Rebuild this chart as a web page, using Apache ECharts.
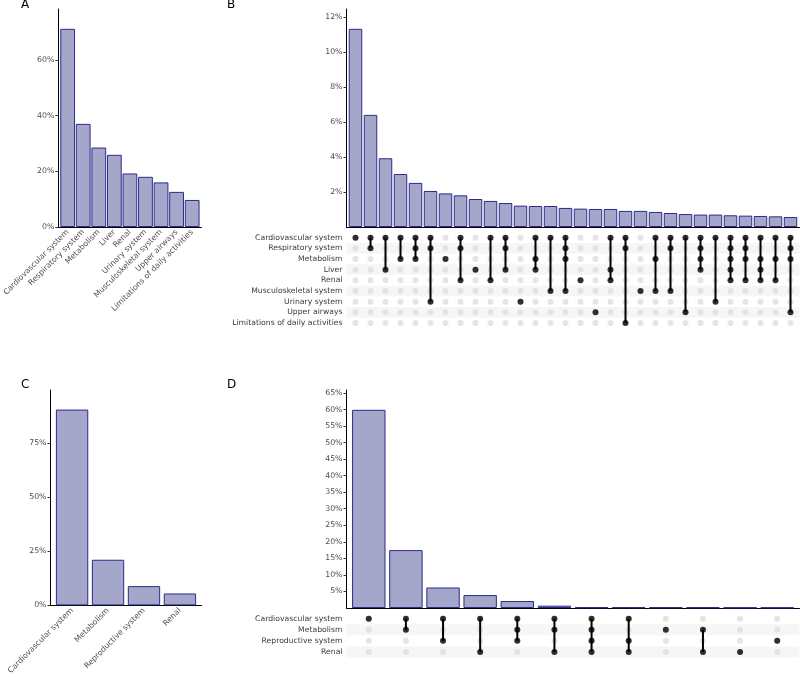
<!doctype html>
<html lang="en">
<head>
<meta charset="UTF-8">
<title>Multimorbidity</title>
<script src="https://cdn.jsdelivr.net/npm/echarts@6/dist/echarts.min.js"></script>
<style>html,body{margin:0;background:#fff;}</style>
</head>
<body>
<div id="main" style="width:800px;height:677px;"></div>
<script>
// A: share per organ system (%)
var catsA = ['Cardiovascular system', 'Respiratory system', 'Metabolism', 'Liver', 'Renal',
    'Urinary system', 'Musculoskeletal system', 'Upper airways', 'Limitations of daily activities'];
var valsA = [71.1, 37.0, 28.5, 25.9, 19.2, 18.0, 16.0, 12.6, 9.7];
var ticksA = [0, 20, 40, 60];

// B: combinations (row indexes into rowsB)
var rowsB = ['Cardiovascular system', 'Respiratory system', 'Metabolism', 'Liver', 'Renal',
    'Musculoskeletal system', 'Urinary system', 'Upper airways', 'Limitations of daily activities'];
var valsB = [11.33, 6.41, 3.93, 3.03, 2.52, 2.06, 1.92, 1.81, 1.60, 1.49,
    1.37, 1.22, 1.20, 1.20, 1.09, 1.05, 1.03, 1.03, 0.92, 0.92,
    0.86, 0.80, 0.74, 0.71, 0.71, 0.67, 0.65, 0.63, 0.61, 0.57];
var combosB = [[0], [0, 1], [0, 3], [0, 2], [0, 1, 2], [0, 1, 6], [2], [0, 1, 4], [3], [0, 4],
    [0, 1, 3], [6], [0, 2, 3], [0, 5], [0, 1, 2, 5], [4], [7], [0, 3, 4], [0, 1, 8], [5],
    [0, 2, 5], [0, 1, 5], [0, 7], [0, 1, 2, 3], [0, 6], [0, 1, 2, 3, 4], [0, 1, 2, 4], [0, 2, 3, 4], [0, 2, 4], [0, 1, 2, 7]];
var ticksB = [2, 4, 6, 8, 10, 12];

// C
var catsC = ['Cardiovascular system', 'Metabolism', 'Reproductive system', 'Renal'];
var valsC = [90.6, 21.1, 8.9, 5.5];
var ticksC = [0, 25, 50, 75];

// D
var rowsD = ['Cardiovascular system', 'Metabolism', 'Reproductive system', 'Renal'];
var valsD = [59.9, 17.5, 6.2, 3.9, 2.1, 0.7, 0.2, 0.2, 0.2, 0.2, 0.15, 0.15];
var combosD = [[0], [0, 1], [0, 2], [0, 3], [0, 1, 2], [0, 1, 3], [0, 1, 2, 3], [0, 2, 3], [1], [1, 3], [3], [2]];
var ticksD = [5, 10, 15, 20, 25, 30, 35, 40, 45, 50, 55, 60, 65];

var FONT = 'DejaVu Sans';
var barFill = '#a4a6ca', barLine = '#2e2a8a';

var myChart = echarts.init(document.getElementById('main'));

var grids = [], xAxes = [], yAxes = [], series = [];

function addBars(box, vals, ticks, names) {
    var k = grids.length;
    var n = vals.length;
    grids.push({ left: box[0], top: box[1], width: box[2], height: box[3] });
    xAxes.push({
        gridIndex: k, type: 'value', min: -0.6, max: n - 0.4,
        splitLine: { show: false },
        axisLine: { show: true, onZero: false, lineStyle: { color: '#000', width: 1 } },
        axisTick: { show: false },
        axisLabel: names ? {
            show: true, rotate: 45, margin: 4, fontFamily: FONT, fontSize: 7.8, color: '#4d4d4d',
            customValues: names.map(function (d, i) { return i; }),
            formatter: function (v) { return names[Math.round(v)]; }
        } : { show: false }
    });
    yAxes.push({
        gridIndex: k, type: 'value', min: 0, max: Math.max.apply(null, vals) * 1.1,
        splitLine: { show: false },
        axisLine: { show: true, onZero: false, lineStyle: { color: '#000', width: 1 } },
        axisTick: { show: true, length: 3, customValues: ticks, lineStyle: { color: '#333' } },
        axisLabel: {
            margin: 4, fontFamily: FONT, fontSize: 7.8, color: '#4d4d4d', customValues: ticks,
            formatter: function (v) { return v + '%'; }
        }
    });
    series.push({
        type: 'bar', xAxisIndex: k, yAxisIndex: k,
        barWidth: 0.9 * box[2] / (n + 0.2),
        itemStyle: { color: barFill, borderColor: barLine, borderWidth: 1 },
        data: vals.map(function (v, i) { return [i, v]; })
    });
}

function addMatrix(box, rows, combos) {
    var k = grids.length;
    var n = combos.length;
    grids.push({ left: box[0], top: box[1], width: box[2], height: box[3] });
    xAxes.push({ gridIndex: k, type: 'value', min: -0.6, max: n - 0.4, show: false });
    yAxes.push({
        gridIndex: k, type: 'category', data: rows, inverse: true,
        axisLine: { show: false }, axisTick: { show: false },
        axisLabel: { margin: 4, fontFamily: FONT, fontSize: 7.7, color: '#3a3a3a' },
        splitArea: { show: true, interval: 0, areaStyle: { color: ['rgba(255,255,255,0)', '#f6f6f6'] } }
    });
    var grey = [], black = [], links = [];
    combos.forEach(function (c, i) {
        rows.forEach(function (r, j) { grey.push([i, j]); });
        c.forEach(function (j) { black.push([i, j]); });
        if (c.length > 1) links.push([i, Math.min.apply(null, c), Math.max.apply(null, c)]);
    });
    series.push({
        type: 'scatter', xAxisIndex: k, yAxisIndex: k, symbolSize: 6, z: 2,
        itemStyle: { color: '#dfdfdf' }, data: grey, silent: true
    });
    series.push({
        type: 'custom', xAxisIndex: k, yAxisIndex: k, z: 3, silent: true,
        encode: { x: 0, y: [1, 2] },
        renderItem: function (params, api) {
            var p1 = api.coord([api.value(0), api.value(1)]);
            var p2 = api.coord([api.value(0), api.value(2)]);
            return {
                type: 'line', shape: { x1: p1[0], y1: p1[1], x2: p2[0], y2: p2[1] },
                style: { stroke: '#000', lineWidth: 2 }
            };
        },
        data: links
    });
    series.push({
        type: 'scatter', xAxisIndex: k, yAxisIndex: k, symbolSize: 6, z: 4,
        itemStyle: { color: '#000' }, data: black, silent: true
    });
}

addBars([50.5, 9, 151, 218], valsA, ticksA, catsA);
addBars([346.5, 9, 453, 218], valsB, ticksB, null);
addMatrix([346.5, 232.3, 453, 96], rowsB, combosB);
addBars([50.5, 390, 151, 217.7], valsC, ticksC, catsC);
addBars([346.5, 390, 453, 218], valsD, ticksD, null);
addMatrix([346.5, 613.1, 453, 44.4], rowsD, combosD);

function letter(t, x, y) {
    return { type: 'text', left: x, top: y, style: { text: t, font: '12px DejaVu Sans', fill: '#000' } };
}

option = {
    animation: false,
    backgroundColor: '#fff',
    grid: grids,
    xAxis: xAxes,
    yAxis: yAxes,
    series: series,
    graphic: [letter('A', 21, -1), letter('B', 227, -1), letter('C', 21, 379), letter('D', 227, 379)]
};

myChart.setOption(option);
</script>
</body>
</html>
